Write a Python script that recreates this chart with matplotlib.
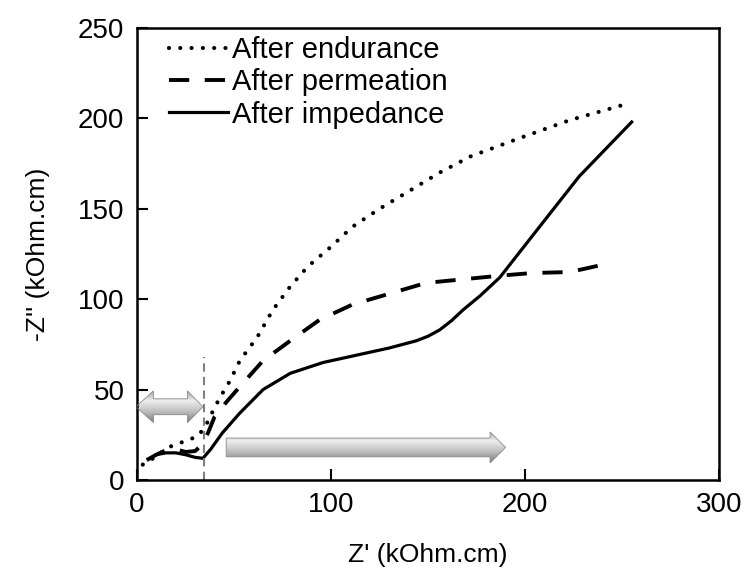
""" Nyquist plot of the three membrane samples. """

import numpy as np
import matplotlib.pyplot as plt
from matplotlib.colors import LinearSegmentedColormap
from matplotlib.patches import Polygon

plt.rcParams['font.family'] = ['Liberation Sans', 'DejaVu Sans']

# After endurance (dotted)
end_x = [3, 10, 16, 21, 26, 31, 35, 40, 43, 48, 53, 62, 70, 79, 88, 100,
         111, 125, 139, 156, 172, 197, 223, 254]
end_y = [8.5, 13, 18, 20, 22, 24, 29, 40, 46, 55, 66, 79, 94, 107, 118, 129,
         140, 150, 159, 170, 179, 189, 199, 208.5]

# After permeation (dashed)
perm_x = [5, 10, 15, 20, 25, 30, 34, 37, 40, 46, 53, 65, 79, 94, 111, 130,
          149, 168, 187, 204, 223, 244]
perm_y = [11, 14, 16.5, 17, 15.5, 16, 20, 27, 35, 43, 51.6, 66, 77, 88.5, 97,
          103, 109, 111, 113, 114.5, 115, 120]

# After impedance (solid)
imp_x = [10, 15, 20, 25, 30, 34, 38, 44, 53, 65, 79, 96, 113, 130, 144, 150,
         156, 162, 168, 177, 187, 206, 228, 255]
imp_y = [14, 15, 15, 14, 12.5, 12, 17, 26, 37, 50, 59, 65, 69, 73, 77, 79.5,
         83, 88, 94, 102, 112, 138, 168, 198]

# marker line and the two arrows (Z' from, Z' to, -Z'' level)
split_x = 34.5
split_top = 68
arrow_left = (-0.5, 34, 40.5)
arrow_right = (46, 190, 18)

arrow_cmap = LinearSegmentedColormap.from_list(
    "arrow", [(0.0, "#7a7a7a"), (0.35, "#bdbdbd"), (0.7, "#efefef"), (1.0, "#a5a5a5")])


def arrow_shape(x0, x1, yc, shaft, head, hl_left, hl_right):
    pts = []
    if hl_left:
        pts += [(x0, yc), (x0 + hl_left, yc + head), (x0 + hl_left, yc + shaft)]
    else:
        pts += [(x0, yc + shaft)]
    pts += [(x1 - hl_right, yc + shaft), (x1 - hl_right, yc + head), (x1, yc),
            (x1 - hl_right, yc - head), (x1 - hl_right, yc - shaft)]
    if hl_left:
        pts += [(x0 + hl_left, yc - shaft), (x0 + hl_left, yc - head)]
    else:
        pts += [(x0, yc - shaft)]
    return pts


def draw_arrow(ax, x0, x1, yc, shaft, head, hl_left, hl_right):
    poly = Polygon(arrow_shape(x0, x1, yc, shaft, head, hl_left, hl_right),
                   closed=True, fc="none", ec="#8a8a8a", lw=0.6, zorder=3)
    ax.add_patch(poly)
    grad = np.linspace(0, 1, 64).reshape(-1, 1)
    im = ax.imshow(grad, cmap=arrow_cmap, origin="lower", aspect="auto",
                   extent=(x0, x1, yc - head, yc + head), zorder=2)
    im.set_clip_path(poly)


fig = plt.figure(figsize=(7.46, 5.74), dpi=100)
ax = fig.add_axes([0.1836, 0.1638, 0.7802, 0.7874])

ax.plot(end_x, end_y, color="black", lw=3, linestyle=(0, (0.01, 2.7)),
        dash_capstyle="round", label="After endurance")
ax.plot(perm_x, perm_y, color="black", lw=2.8, linestyle=(0, (5.2, 4.0)),
        label="After permeation")
ax.plot(imp_x, imp_y, color="black", lw=2.3, label="After impedance")

ax.plot([split_x, split_x], [0, split_top], color="#808080", lw=1.5,
        linestyle=(0, (4, 2.5)))

draw_arrow(ax, arrow_left[0], arrow_left[1], arrow_left[2], 4.4, 8.8, 9, 8)
draw_arrow(ax, arrow_right[0], arrow_right[1], arrow_right[2], 5.2, 8.6, 0, 8)

ax.set_xlim(0, 300)
ax.set_ylim(0, 250)
ax.set_xticks([0, 100, 200, 300])
ax.set_yticks([0, 50, 100, 150, 200, 250])
ax.tick_params(direction="in", length=8, width=1.5, labelsize=20, pad=9,
               colors="black")
for sp in ax.spines.values():
    sp.set_linewidth(1.8)

ax.set_xlabel("Z' (kOhm.cm)", fontsize=19, labelpad=18)
ax.set_ylabel("-Z'' (kOhm.cm)", fontsize=19, labelpad=20)

ax.legend(loc="upper left", bbox_to_anchor=(0.028, 1.018), frameon=False,
          fontsize=21, handlelength=2.0, handletextpad=0.15, labelspacing=0.15,
          borderaxespad=0.15)

fig.savefig("out.png", dpi=100)
